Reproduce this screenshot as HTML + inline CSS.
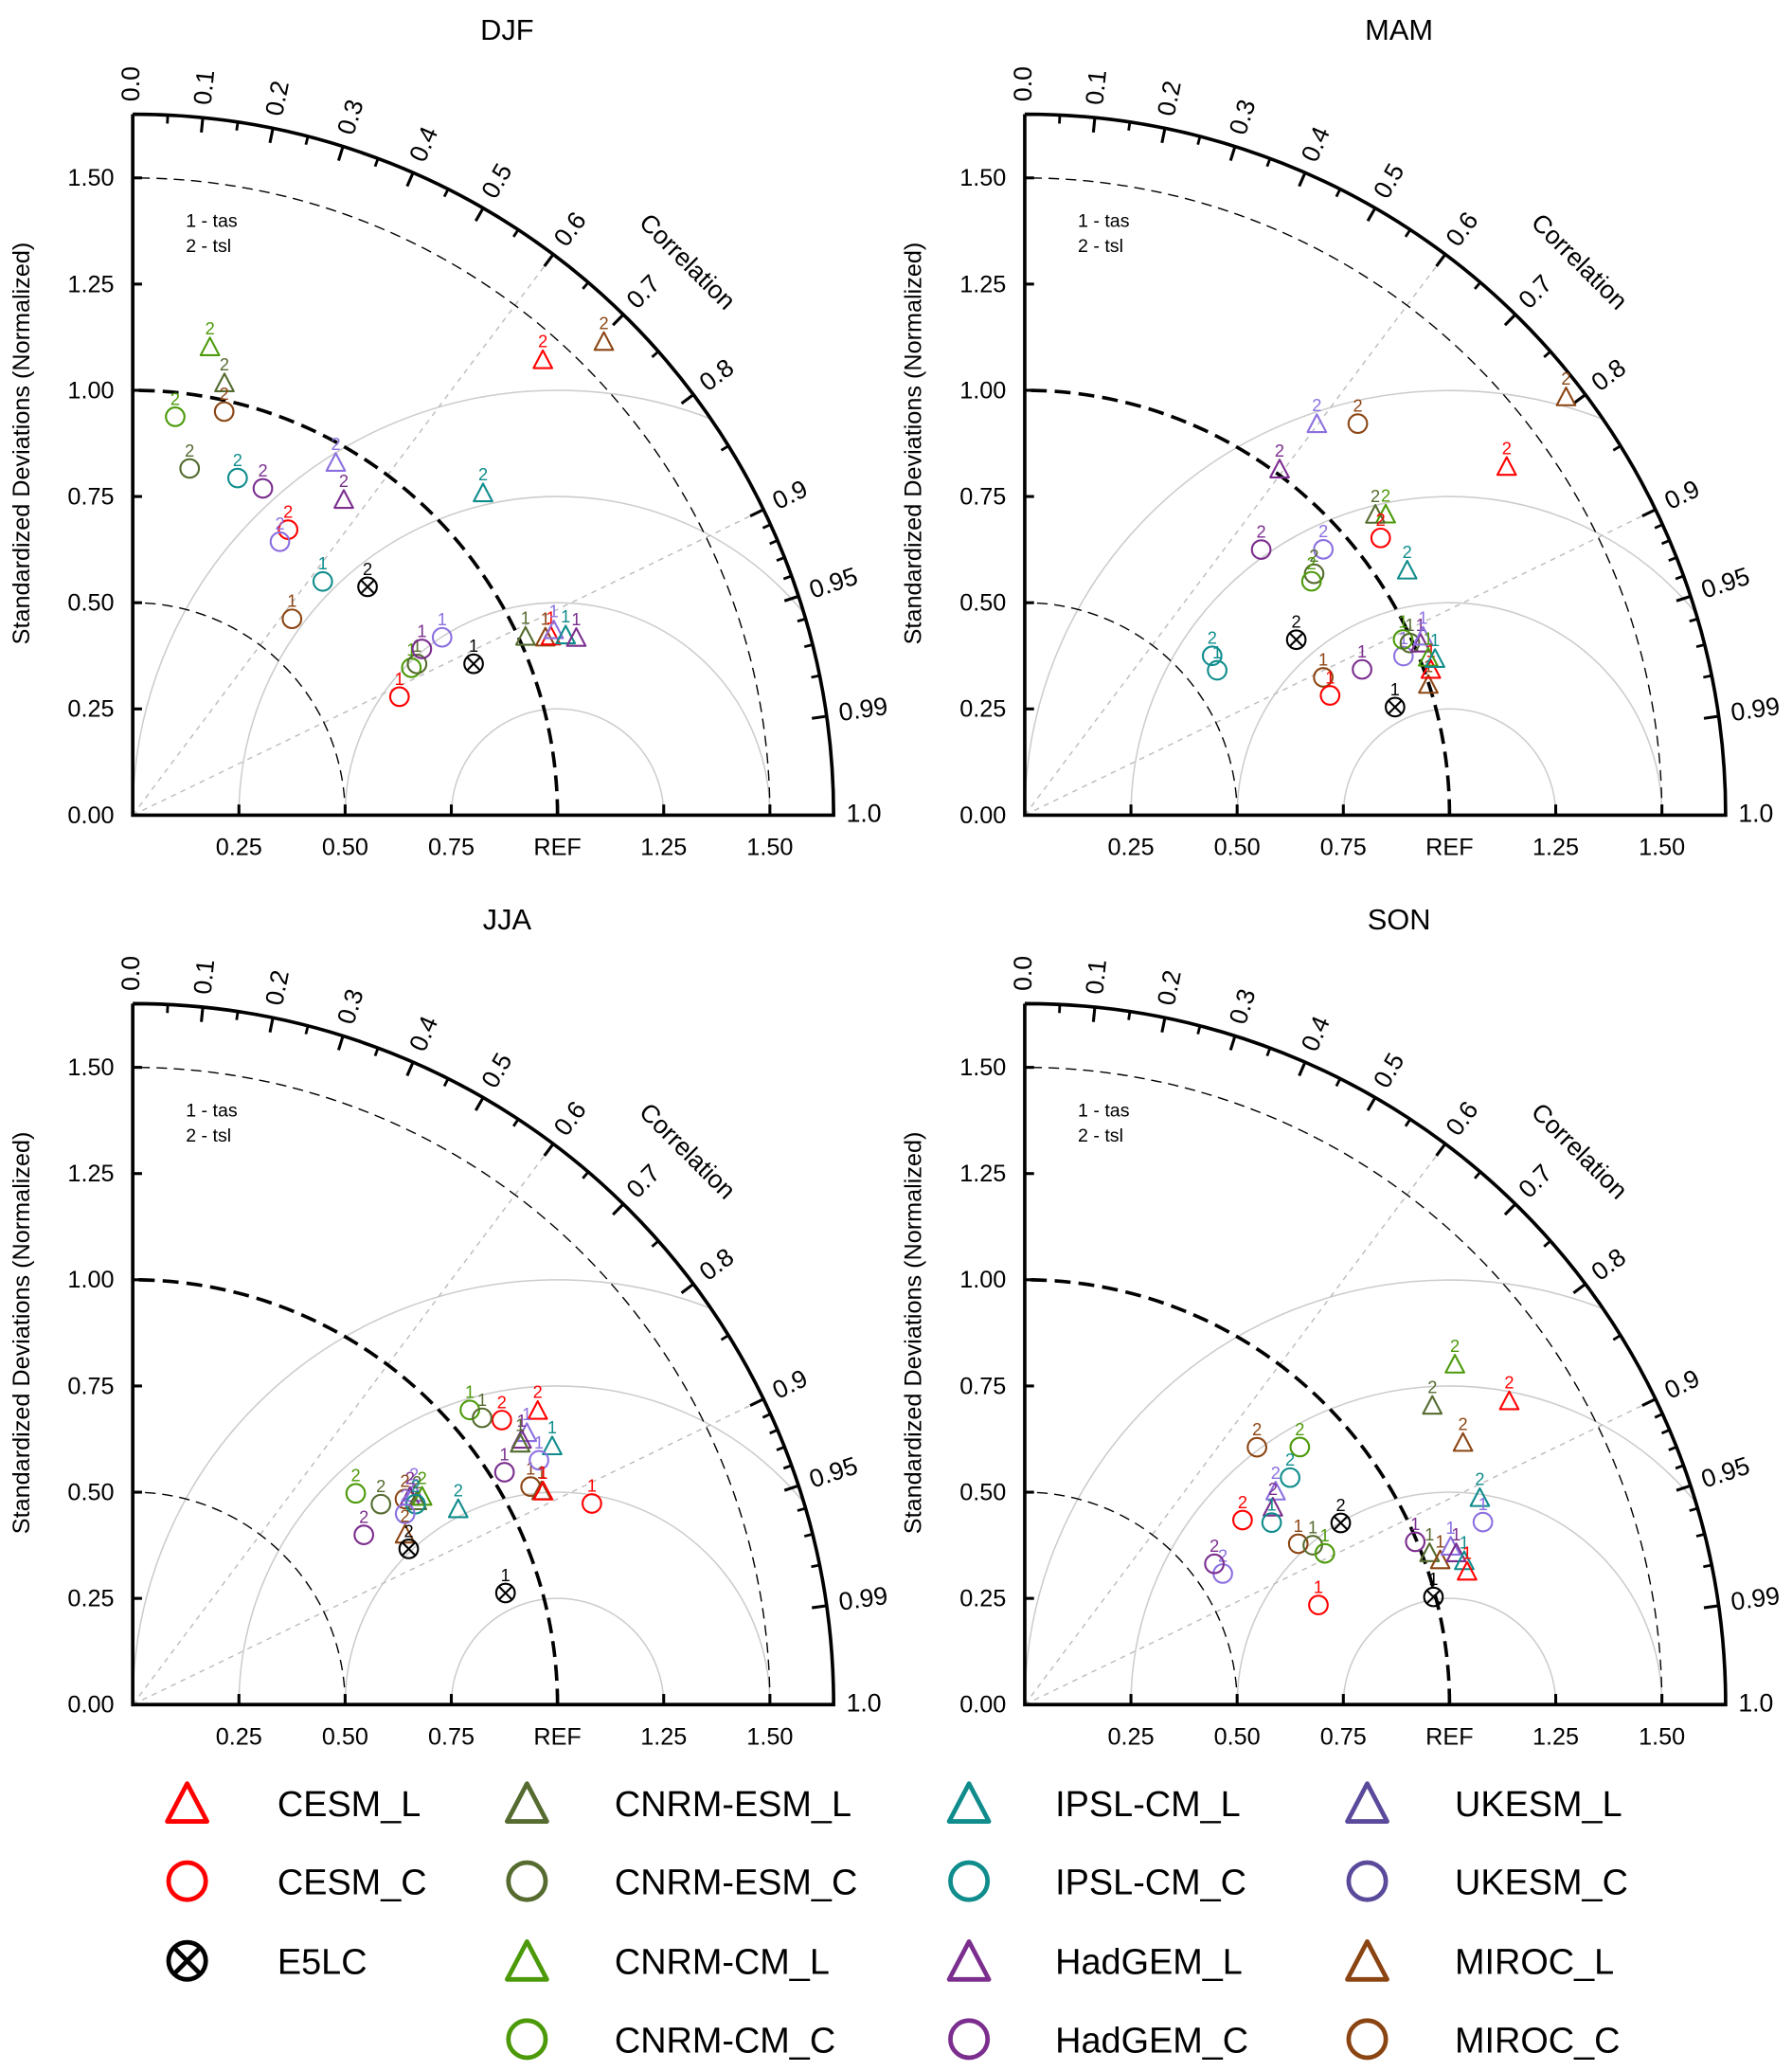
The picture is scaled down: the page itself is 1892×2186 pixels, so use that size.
<!DOCTYPE html>
<html><head><meta charset="utf-8"><style>
html,body{margin:0;padding:0;background:#fff;}
svg{display:block;font-family:"Liberation Sans",sans-serif;}
</style></head><body>
<svg id="chart" width="1892" height="2186" viewBox="0 0 1350 1560" preserveAspectRatio="none" xmlns="http://www.w3.org/2000/svg">
<rect x="0" y="0" width="1350" height="1560" fill="#fff"/>
</svg>
<script>
const modelNames = ["CESM_L","CESM_C","E5LC","CNRM-ESM_L","CNRM-ESM_C","CNRM-CM_L","CNRM-CM_C","IPSL-CM_L","IPSL-CM_C","HadGEM_L","HadGEM_C","UKESM_L","UKESM_C","MIROC_L","MIROC_C"];
const modelShapes = ["tri","circ","x","tri","circ","tri","circ","tri","circ","tri","circ","tri","circ","tri","circ"];
const modelColors = ["#ff0000","#ff0000","#000000","#556b2f","#556b2f","#4c9a0a","#4c9a0a","#108c8c","#108c8c","#7b2e8e","#7b2e8e","#8c70e0","#8c70e0","#8b4513","#8b4513"];
const legendColors = ["#ff0000","#ff0000","#000000","#556b2f","#556b2f","#4c9a0a","#4c9a0a","#108c8c","#108c8c","#7b2e8e","#7b2e8e","#5b4a9b","#5b4a9b","#8b4513","#8b4513"];

const corrTickLabels = ["0.0","0.1","0.2","0.3","0.4","0.5","0.6","0.7","0.8","0.9","0.95","0.99","1.0"];
const corrTickValues = [0,0.1,0.2,0.3,0.4,0.5,0.6,0.7,0.8,0.9,0.95,0.99,1.0];
const corrMinorValues = [0.05,0.15,0.25,0.35,0.45,0.55,0.65,0.75,0.85,0.91,0.92,0.93,0.94,0.96,0.97,0.98];
const stdTickLabels = ["0.00","0.25","0.50","0.75","1.00","1.25","1.50"];
const stdTickValues = [0,0.25,0.5,0.75,1,1.25,1.5];
const xTickLabels = ["0.25","0.50","0.75","REF","1.25","1.50"];
const xTickValues = [0.25,0.5,0.75,1,1.25,1.5];

const djfModel = [13,0,5,3,6,14,4,8,10,11,9,7,1,12,8,2,14,1,6,4,10,12,2,3,13,0,11,7,9];
const djfVar   = [2,2,2,2,2,2,2,2,2,2,2,2,2,2,1,2,1,1,1,1,1,1,1,1,1,1,1,1,1];
const djfStd   = [1.571,1.441,1.115,1.038,0.943,0.974,0.827,0.831,0.828,0.956,0.892,1.119,0.765,0.731,0.709,0.771,0.595,0.687,0.742,0.758,0.785,0.840,0.878,1.015,1.057,1.070,1.082,1.103,1.124];
const djfCorr  = [0.706,0.670,0.163,0.208,0.106,0.221,0.162,0.297,0.370,0.500,0.557,0.737,0.478,0.474,0.631,0.717,0.630,0.914,0.884,0.883,0.867,0.867,0.914,0.911,0.919,0.920,0.916,0.924,0.929];

const mamModel = [13,0,11,14,9,5,3,1,7,10,12,4,6,8,8,2,14,1,10,2,12,6,4,9,11,13,0,5,7];
const mamVar   = [2,2,2,2,2,2,2,2,2,2,2,2,2,2,1,2,1,1,1,1,1,1,1,1,1,1,1,1,1];
const mamStd   = [1.609,1.399,1.148,1.210,1.010,1.105,1.086,1.062,1.068,0.837,0.941,0.887,0.871,0.579,0.567,0.761,0.774,0.772,0.865,0.908,0.967,0.982,0.993,1.015,1.027,0.998,1.015,1.019,1.033];
const mamCorr  = [0.792,0.811,0.599,0.648,0.594,0.769,0.760,0.789,0.843,0.665,0.747,0.768,0.775,0.762,0.799,0.840,0.908,0.931,0.918,0.960,0.922,0.907,0.913,0.918,0.913,0.952,0.942,0.932,0.935];

const jjaModel = [0,1,6,4,11,9,3,7,1,14,13,12,10,7,6,4,10,14,11,9,3,5,8,12,13,2,2,0];
const jjaVar   = [2,2,1,1,1,1,1,1,1,1,1,1,1,2,2,2,2,2,2,2,2,2,2,2,2,2,1,1];
const jjaStd   = [1.177,1.097,1.054,1.064,1.126,1.107,1.099,1.159,1.180,1.068,1.085,1.116,1.032,0.893,0.723,0.751,0.675,0.803,0.828,0.815,0.822,0.838,0.816,0.783,0.755,0.746,0.916,1.088];
const jjaCorr  = [0.810,0.792,0.753,0.773,0.824,0.827,0.830,0.852,0.916,0.877,0.887,0.857,0.848,0.858,0.726,0.778,0.806,0.798,0.800,0.801,0.814,0.813,0.816,0.819,0.849,0.871,0.958,0.888];

const sonModel = [5,0,3,13,7,12,14,6,8,11,9,8,1,14,4,6,2,12,10,1,10,3,13,11,9,7,0,2];
const sonVar   = [2,2,2,2,2,1,2,2,2,2,2,1,2,1,1,1,2,2,2,1,1,1,1,1,1,1,1,1];
const sonStd   = [1.290,1.345,1.189,1.201,1.176,1.161,0.816,0.887,0.822,0.774,0.745,0.722,0.672,0.747,0.775,0.791,0.858,0.559,0.556,0.730,0.996,1.017,1.035,1.069,1.076,1.088,1.087,0.995];
const sonCorr  = [0.785,0.848,0.807,0.859,0.911,0.929,0.670,0.730,0.760,0.763,0.784,0.805,0.763,0.862,0.875,0.893,0.867,0.834,0.803,0.947,0.923,0.937,0.945,0.938,0.944,0.951,0.958,0.967];

const NS="http://www.w3.org/2000/svg";
const svg=document.getElementById("chart");
const R=320, SMAX=1.65;
function mk(tag,attrs,parent){const e=document.createElementNS(NS,tag);for(const k in attrs)e.setAttribute(k,attrs[k]);(parent||svg).appendChild(e);return e;}
function txt(s,attrs,parent){const e=mk("text",attrs,parent);e.textContent=s;return e;}

function drawPanel(title,ox,oy,models,vars,stds,corrs,id){
  const g=mk("g",{});
  
  
  const sx=v=>ox+v*R, sy=v=>oy-v*R;
  const polar=(s,c)=>{const th=Math.acos(Math.min(1,c));return [ox+s*R*Math.cos(th), oy-s*R*Math.sin(th)];};
  const t=txt(title,{x:ox+282,y:oy-584,"font-size":22,"text-anchor":"middle"},g);
  
  
  const cid="clip"+id;
  const cp=mk("clipPath",{id:cid},g);
  mk("path",{d:`M${ox},${oy} L${sx(SMAX)},${oy} A${SMAX*R},${SMAX*R} 0 0 0 ${ox},${sy(SMAX)} Z`},cp);
  const rms=mk("g",{"clip-path":`url(#${cid})`},g);
  
  
  [0.25,0.5,0.75,1.0].forEach(r=>{
    mk("path",{d:`M${sx(1-r)},${oy} A${r*R},${r*R} 0 0 1 ${sx(1+r)},${oy}`,fill:"none",stroke:"#cccccc","stroke-width":1.1},rms);
  });
  [0.6,0.9].forEach(c=>{const p=polar(SMAX-0.02,c);mk("line",{x1:ox,y1:oy,x2:p[0],y2:p[1],stroke:"#bbbbbb","stroke-width":1,"stroke-dasharray":"4,4"},g);});
  [[0.5,1,"8,5"],[1.0,2.6,"12,6"],[1.5,1,"8,5"]].forEach(a=>{
    const c=mk("path",{d:`M${sx(a[0])},${oy} A${a[0]*R},${a[0]*R} 0 0 0 ${ox},${sy(a[0])}`,fill:"none",stroke:"#000","stroke-width":a[1],"stroke-dasharray":a[2]},g);
    
    
  });
  mk("path",{d:`M${ox},${sy(SMAX)} L${ox},${oy} L${sx(SMAX)},${oy} A${SMAX*R},${SMAX*R} 0 0 0 ${ox},${sy(SMAX)}`,fill:"none",stroke:"#000","stroke-width":2.6},g);
  stdTickValues.forEach((v,i)=>{
    mk("line",{x1:ox,y1:sy(v),x2:ox+7,y2:sy(v),stroke:"#000","stroke-width":2.2},g);
    txt(stdTickLabels[i],{x:ox-14,y:sy(v)+6,"font-size":18,"text-anchor":"end"},g);
  });
  xTickValues.forEach((v,i)=>{
    mk("line",{x1:sx(v),y1:oy,x2:sx(v),y2:oy-8,stroke:"#000","stroke-width":2.2},g);
    txt(xTickLabels[i],{x:sx(v),y:oy+30,"font-size":18,"text-anchor":"middle"},g);
  });
  corrTickValues.forEach((c,i)=>{
    const a=polar(SMAX,c),b=polar(SMAX-0.035,c),l=polar(SMAX+0.03,c);
    if(c>0&&c<1)mk("line",{x1:a[0],y1:a[1],x2:b[0],y2:b[1],stroke:"#000","stroke-width":2.2},g);
    const th=Math.acos(c)*180/Math.PI;
    const tl=txt(corrTickLabels[i],{x:l[0],y:l[1],"font-size":19,"dominant-baseline":"middle",transform:`rotate(${-th} ${l[0]} ${l[1]})`},g);
    
    
  });
  corrMinorValues.forEach(c=>{const a=polar(SMAX,c),b=polar(SMAX-0.02,c);mk("line",{x1:a[0],y1:a[1],x2:b[0],y2:b[1],stroke:"#000","stroke-width":2},g);});
  const cp2=[ox+1.303*R,oy-1.30*R];
  const ct=txt("Correlation",{x:cp2[0],y:cp2[1],"font-size":19,"text-anchor":"middle","dominant-baseline":"middle",transform:`rotate(45 ${cp2[0]} ${cp2[1]})`},g);
  
  
  const yt=txt("Standardized Deviations (Normalized)",{x:ox-78,y:oy-280,"font-size":18,"text-anchor":"middle",transform:`rotate(-90 ${ox-78} ${oy-280})`},g);
  
  
  txt("1 - tas",{x:ox+40,y:oy-443,"font-size":14},g);
  txt("2 - tsl",{x:ox+40,y:oy-424,"font-size":14},g);
  models.forEach((m,i)=>{
    const p=polar(stds[i],corrs[i]);const col=modelColors[m];
    const mg=mk("g",{},g);
    
    
    drawShape(mg,modelShapes[m],p[0],p[1],7,col,1.5);
    txt(String(vars[i]),{x:p[0],y:p[1]-(modelShapes[m]==="tri"?10:9),"font-size":13,"text-anchor":"middle",fill:col},mg);
  });
}
function drawShape(parent,shape,x,y,r,col,sw){
  if(shape==="tri"){mk("path",{d:`M${x},${y-r*1.1} L${x+r},${y+r*0.8} L${x-r},${y+r*0.8} Z`,fill:"none",stroke:col,"stroke-width":sw,"stroke-linejoin":"round"},parent);}
  else if(shape==="circ"){mk("circle",{cx:x,cy:y,r:r,fill:"none",stroke:col,"stroke-width":sw},parent);}
  else{mk("circle",{cx:x,cy:y,r:r,fill:"none",stroke:col,"stroke-width":sw},parent);const d=r*0.7;
    mk("path",{d:`M${x-d},${y-d} L${x+d},${y+d} M${x+d},${y-d} L${x-d},${y+d}`,stroke:col,"stroke-width":sw},parent);}
}
drawPanel("DJF",100,614,djfModel,djfVar,djfStd,djfCorr,"djf");
drawPanel("MAM",772,614,mamModel,mamVar,mamStd,mamCorr,"mam");
drawPanel("JJA",100,1284,jjaModel,jjaVar,jjaStd,jjaCorr,"jja");
drawPanel("SON",772,1284,sonModel,sonVar,sonStd,sonCorr,"son");

const legendCols=[[0,1,2],[3,4,5,6],[7,8,9,10],[11,12,13,14]];
const legendMarkerX=[141,397,730,1030], legendTextX=[209,463,795,1096], legendRowY=[1358,1417,1477,1536];
const lg=mk("g",{});


legendCols.forEach((col,ci)=>col.forEach((m,ri)=>{
  const e=mk("g",{},lg);
  
  
  drawShape(e,modelShapes[m],legendMarkerX[ci],legendRowY[ri]+(modelShapes[m]==="tri"?2:0),modelShapes[m]==="tri"?15:14,legendColors[m],3.4);
  txt(modelNames[m],{x:legendTextX[ci],y:legendRowY[ri]+10,"font-size":27},e);
}));
</script>
</body></html>
